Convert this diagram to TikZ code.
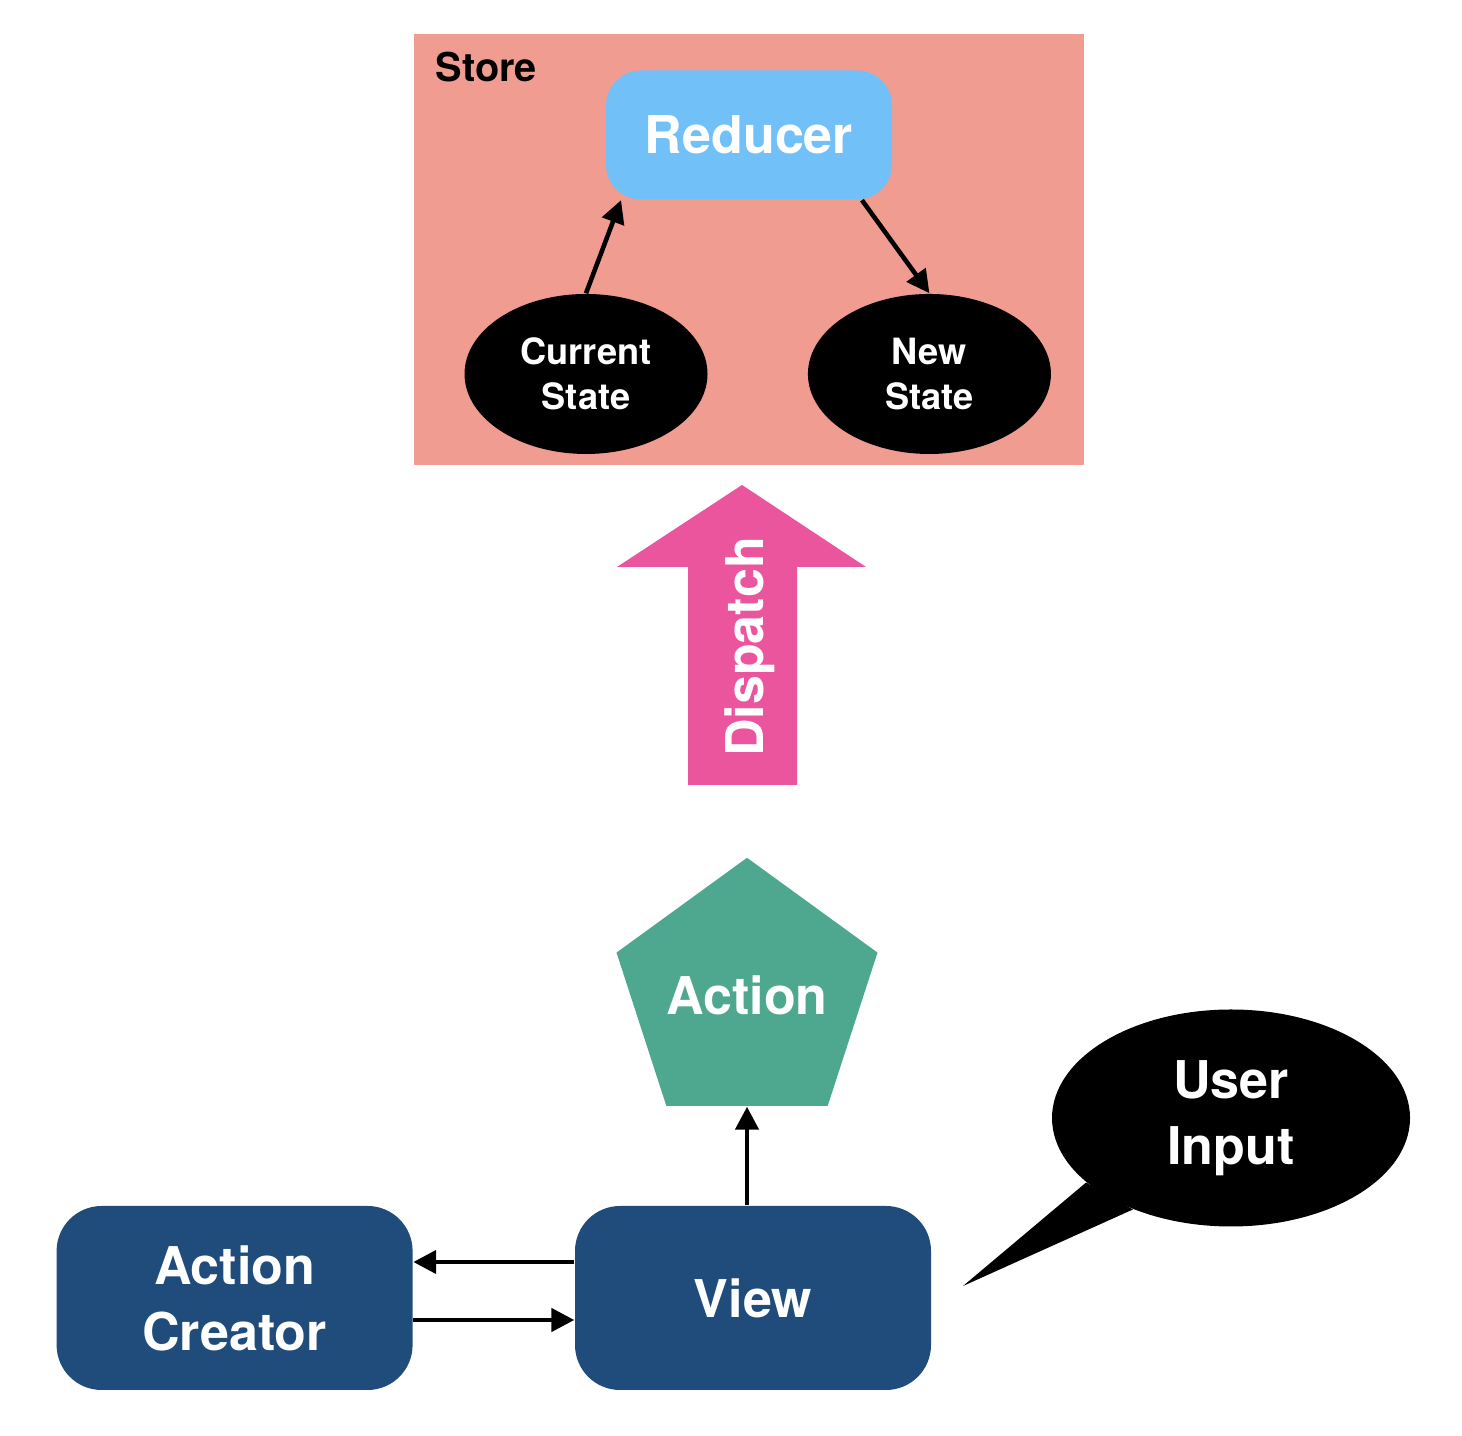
\documentclass[tikz,border=0pt]{standalone}
\usepackage{fontspec}
\setmainfont{TeX Gyre Heros}
\usetikzlibrary{positioning,shapes.geometric,arrows.meta}
\definecolor{storeclr}{rgb}{0.945, 0.612, 0.569}
\definecolor{redclr}{rgb}{0.447, 0.753, 0.973}
\definecolor{dispclr}{rgb}{0.922, 0.333, 0.620}
\definecolor{actclr}{rgb}{0.302, 0.659, 0.561}
\definecolor{viewclr}{rgb}{0.122, 0.298, 0.482}
\tikzset{ %
  ,>={Triangle[length=6.5pt,width=6.5pt]}
  ,every node/.style={font=\bfseries}
  ,big/.style={font=\bfseries\fontsize{14.8}{18.8}\selectfont}
  ,small/.style={font=\bfseries\fontsize{10.3}{12.8}\selectfont}
  ,reducer/.style={fill=redclr, rounded corners=0.35cm, minimum width=2.86cm, minimum height=1.29cm, inner sep=0, text=white, big}
  ,state/.style={ellipse, fill=black, inner sep=0, minimum width=2.43cm, minimum height=1.60cm, text=white, align=center, small}
  ,action/.style={regular polygon, regular polygon sides=5, minimum size=2.744cm, inner sep=0, fill=actclr, text=white, big}
  ,block/.style={fill=viewclr, rounded corners=0.45cm, minimum width=3.56cm, minimum height=1.84cm, inner sep=0, text=white, align=center, big}
  ,bubble/.style={ellipse, fill=black, inner sep=0, minimum width=3.58cm, minimum height=2.17cm, text=white, align=center, big}
  ,link/.style={->, line width=1.3pt}
}

\begin{document}
\begin{tikzpicture}
    \useasboundingbox (0,0) rectangle (14.62,14.36);
    % store
    \fill[storeclr] (4.14,9.71) rectangle (10.84,14.02);
    \node[anchor=base west, inner sep=0, font=\bfseries\fontsize{11.3}{13}\selectfont] (store) at (4.35,13.54) {Store};
    \node[reducer] (red) at (7.49,13.01) {Reducer};
    \node[state] (cs) at (5.86,10.62) {Current\\State};
    \node[state, right=0.99cm of cs] (ns) {New\\State};
    \draw[link] (cs.north) -- (red.207);
    \draw[link] (red.-30) -- (ns.north);
    % dispatch
    \fill[dispclr] (6.88,6.51) -- (7.97,6.51) -- (7.97,8.69) -- (8.66,8.69) -- (7.42,9.51)
      -- (6.17,8.69) -- (6.88,8.69) -- cycle;
    \node[big, text=white, rotate=90] (disp) at (7.50,7.89) {Dispatch};
    % action and view
    \node[action] (act) at (7.47,4.41) {\makebox[0pt]{Action}};
    \node[block] (view) at (7.53,1.38) {View};
    \node[block, left=1.61cm of view] (ac) {Action\\Creator};
    \draw[link] (act.south |- view.north) -- (act.south);
    \draw[link] ([yshift=0.36cm]view.west) -- ([yshift=0.36cm]ac.east);
    \draw[link] ([yshift=-0.22cm]ac.east) -- ([yshift=-0.22cm]view.west);
    % user input
    \node[bubble] (ui) at (12.31,3.18) {User\\Input};
    \coordinate (tip) at (9.63,1.50);
    \fill (tip) -- (ui.204) -- (ui.223) -- cycle;
\end{tikzpicture}
\end{document}
